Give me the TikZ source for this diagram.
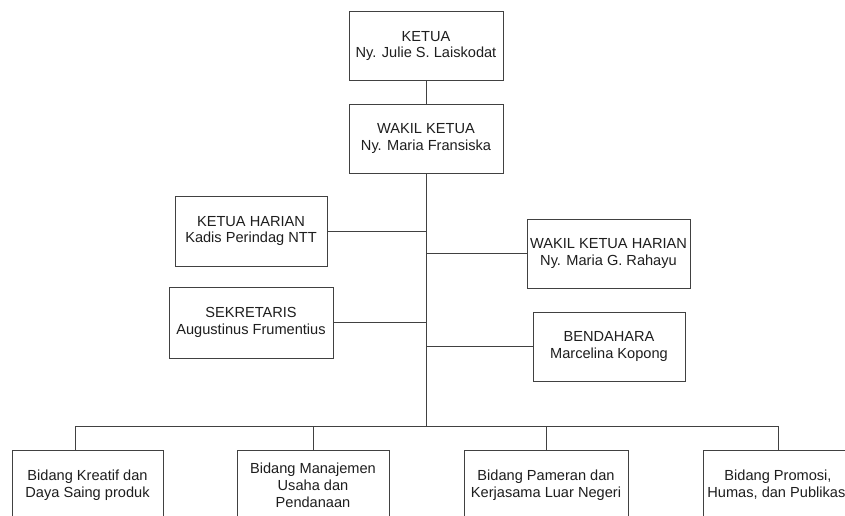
\documentclass[tikz,border=0pt]{standalone}
\usepackage{fontspec}
\setmainfont{Liberation Sans}
\usepackage{tikz}
\usetikzlibrary{positioning,calc}
\definecolor{GarisOrg}{RGB}{65,65,65}
\definecolor{TeksOrg}{RGB}{30,30,30}
\tikzset{
  orgbox/.style={draw=GarisOrg, line width=1pt, fill=white, align=center,
    minimum width=#1, minimum height=69pt, inner sep=2pt, text=TeksOrg,
    font=\fontsize{14.6}{16.8}\selectfont},
  orgbox/.default=154pt,
  bidangbox/.style={orgbox=#1, minimum height=70pt},
  bidangbox/.default=151pt,
  orgline/.style={line width=1pt, GarisOrg},
}
\begin{document}
\begin{tikzpicture}[x=1pt, y=-1pt]
  \useasboundingbox (0,0) rectangle (845,515);
  \clip (0,0) rectangle (845,515);
  % ---- pimpinan ----
  \node[orgbox] (ketua) at (426,46) {KETUA\\ Ny. Julie S. Laiskodat};
  \node[orgbox] (wakil) at (426,138.5) {WAKIL KETUA\\ Ny. Maria Fransiska};
  \draw[orgline] (ketua) -- (wakil);

  % ---- batang utama ----
  \coordinate (bus) at (426,426);
  \draw[orgline] (wakil.south) -- (bus);

  \node[orgbox=152pt, minimum height=70pt] (harian) at (251,231) {KETUA HARIAN\\ Kadis Perindag NTT};
  \node[orgbox=164pt, minimum height=71pt] (sekretaris) at (251,322.5) {SEKRETARIS\\ Augustinus Frumentius};
  \node[orgbox=163pt] (wakilharian) at (608.5,253.5) {WAKIL KETUA HARIAN\\ Ny. Maria G. Rahayu};
  \node[orgbox=152pt] (bendahara) at (609,346.5) {BENDAHARA\\ Marcelina Kopong};
  \draw[orgline] (harian.east) -- (harian.east -| bus);
  \draw[orgline] (sekretaris.east) -- (sekretaris.east -| bus);
  \draw[orgline] (wakilharian.west) -- (wakilharian.west -| bus);
  \draw[orgline] (bendahara.west) -- (bendahara.west -| bus);

  % ---- bidang ----
  \node[bidangbox] (b1) at (87.5,485) {Bidang Kreatif dan\\ Daya Saing produk};
  \node[bidangbox=152pt] (b2) at (313,485) {Bidang Manajemen\\ Usaha dan\\ Pendanaan};
  \node[bidangbox=164pt] (b3) at (546,485) {Bidang Pameran dan\\ Kerjasama Luar Negeri};
  \node[bidangbox=150pt] (b4) at (778,485) {Bidang Promosi,\\ Humas, dan Publikasi};
  \coordinate (drop1) at (75,426);
  \coordinate (drop4) at (778,426);
  \draw[orgline] (drop1) -- (drop4);
  \draw[orgline] (drop1) -- (drop1 |- b1.north);
  \draw[orgline] (b2.north |- bus) -- (b2.north);
  \draw[orgline] (b3.north |- bus) -- (b3.north);
  \draw[orgline] (drop4) -- (b4.north);
\end{tikzpicture}
\end{document}
